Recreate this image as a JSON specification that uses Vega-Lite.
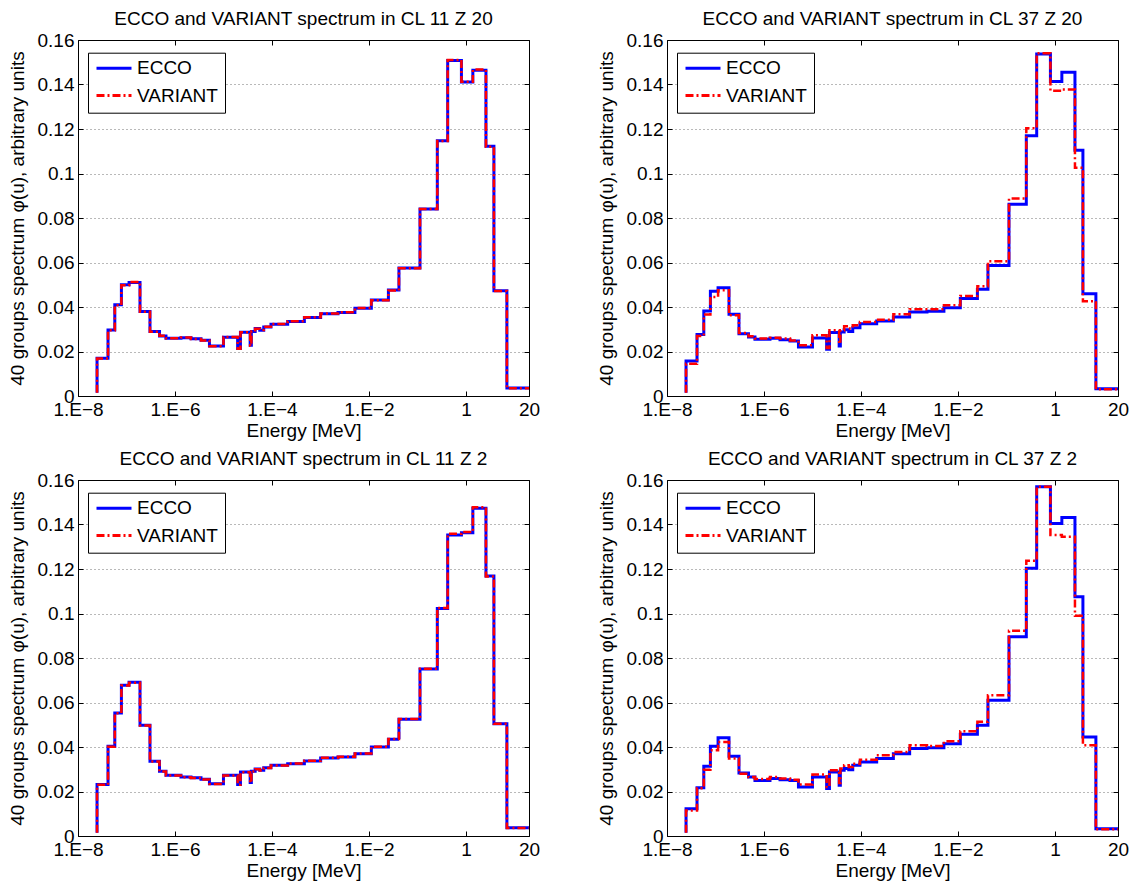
{
"$schema": "https://vega.github.io/schema/vega-lite/v6.json",
"background": "white",
"padding": {"left": 7, "top": 9, "right": 5, "bottom": 2},
"data": {"values": [
{"p":"A","i":0,"E":2.47e-8,"ECCO":0.0015,"VARIANT":0.0015},
{"p":"A","i":1,"E":2.47e-8,"ECCO":0.017,"VARIANT":0.0168},
{"p":"A","i":2,"E":4.16e-8,"ECCO":0.0297,"VARIANT":0.0295},
{"p":"A","i":3,"E":5.74e-8,"ECCO":0.041,"VARIANT":0.0408},
{"p":"A","i":4,"E":7.85e-8,"ECCO":0.050,"VARIANT":0.0498},
{"p":"A","i":5,"E":1.13e-7,"ECCO":0.051,"VARIANT":0.0512},
{"p":"A","i":6,"E":1.9e-7,"ECCO":0.038,"VARIANT":0.0379},
{"p":"A","i":7,"E":3.05e-7,"ECCO":0.029,"VARIANT":0.0289},
{"p":"A","i":8,"E":4.79e-7,"ECCO":0.027,"VARIANT":0.0271},
{"p":"A","i":9,"E":6.52e-7,"ECCO":0.026,"VARIANT":0.0259},
{"p":"A","i":10,"E":1.33e-6,"ECCO":0.0262,"VARIANT":0.0263},
{"p":"A","i":11,"E":2.14e-6,"ECCO":0.0257,"VARIANT":0.0256},
{"p":"A","i":12,"E":3.44e-6,"ECCO":0.0251,"VARIANT":0.025},
{"p":"A","i":13,"E":5.14e-6,"ECCO":0.0225,"VARIANT":0.0224},
{"p":"A","i":14,"E":1e-5,"ECCO":0.0264,"VARIANT":0.0265},
{"p":"A","i":15,"E":1.96e-5,"ECCO":0.0213,"VARIANT":0.0212},
{"p":"A","i":16,"E":2.24e-5,"ECCO":0.0286,"VARIANT":0.0287},
{"p":"A","i":17,"E":3.55e-5,"ECCO":0.0228,"VARIANT":0.0226},
{"p":"A","i":18,"E":3.76e-5,"ECCO":0.029,"VARIANT":0.029},
{"p":"A","i":19,"E":4.5e-5,"ECCO":0.0303,"VARIANT":0.0302},
{"p":"A","i":20,"E":5.6e-5,"ECCO":0.0296,"VARIANT":0.0297},
{"p":"A","i":21,"E":6.77e-5,"ECCO":0.031,"VARIANT":0.0311},
{"p":"A","i":22,"E":9.54e-5,"ECCO":0.0323,"VARIANT":0.0324},
{"p":"A","i":23,"E":2.11e-4,"ECCO":0.0335,"VARIANT":0.0336},
{"p":"A","i":24,"E":4.66e-4,"ECCO":0.0353,"VARIANT":0.0354},
{"p":"A","i":25,"E":1.01e-3,"ECCO":0.037,"VARIANT":0.0371},
{"p":"A","i":26,"E":2.3e-3,"ECCO":0.0375,"VARIANT":0.0376},
{"p":"A","i":27,"E":5.14e-3,"ECCO":0.0394,"VARIANT":0.0395},
{"p":"A","i":28,"E":1.12e-2,"ECCO":0.0431,"VARIANT":0.043},
{"p":"A","i":29,"E":2.52e-2,"ECCO":0.0476,"VARIANT":0.0474},
{"p":"A","i":30,"E":4.16e-2,"ECCO":0.0575,"VARIANT":0.0574},
{"p":"A","i":31,"E":0.113,"ECCO":0.0841,"VARIANT":0.084},
{"p":"A","i":32,"E":0.257,"ECCO":0.1147,"VARIANT":0.1146},
{"p":"A","i":33,"E":0.421,"ECCO":0.1508,"VARIANT":0.151},
{"p":"A","i":34,"E":0.808,"ECCO":0.1411,"VARIANT":0.1412},
{"p":"A","i":35,"E":1.39,"ECCO":0.1464,"VARIANT":0.1467},
{"p":"A","i":36,"E":2.59,"ECCO":0.1122,"VARIANT":0.112},
{"p":"A","i":37,"E":3.78,"ECCO":0.0473,"VARIANT":0.0472},
{"p":"A","i":38,"E":7.0,"ECCO":0.0036,"VARIANT":0.0035},
{"p":"A","i":39,"E":20,"ECCO":0.0036,"VARIANT":0.0035},
{"p":"B","i":0,"E":2.47e-8,"ECCO":0.0015,"VARIANT":0.0015},
{"p":"B","i":1,"E":2.47e-8,"ECCO":0.0157,"VARIANT":0.0145},
{"p":"B","i":2,"E":4.16e-8,"ECCO":0.0276,"VARIANT":0.027},
{"p":"B","i":3,"E":5.74e-8,"ECCO":0.0382,"VARIANT":0.0366},
{"p":"B","i":4,"E":7.85e-8,"ECCO":0.0471,"VARIANT":0.0445},
{"p":"B","i":5,"E":1.13e-7,"ECCO":0.0487,"VARIANT":0.0475},
{"p":"B","i":6,"E":1.9e-7,"ECCO":0.0367,"VARIANT":0.0363},
{"p":"B","i":7,"E":3.05e-7,"ECCO":0.028,"VARIANT":0.0283},
{"p":"B","i":8,"E":4.79e-7,"ECCO":0.0265,"VARIANT":0.0268},
{"p":"B","i":9,"E":6.52e-7,"ECCO":0.0255,"VARIANT":0.0258},
{"p":"B","i":10,"E":1.33e-6,"ECCO":0.026,"VARIANT":0.0262},
{"p":"B","i":11,"E":2.14e-6,"ECCO":0.0253,"VARIANT":0.0258},
{"p":"B","i":12,"E":3.44e-6,"ECCO":0.0247,"VARIANT":0.025},
{"p":"B","i":13,"E":5.14e-6,"ECCO":0.022,"VARIANT":0.0228},
{"p":"B","i":14,"E":1e-5,"ECCO":0.0261,"VARIANT":0.0273},
{"p":"B","i":15,"E":1.96e-5,"ECCO":0.021,"VARIANT":0.0216},
{"p":"B","i":16,"E":2.24e-5,"ECCO":0.0285,"VARIANT":0.0295},
{"p":"B","i":17,"E":3.55e-5,"ECCO":0.0225,"VARIANT":0.0235},
{"p":"B","i":18,"E":3.76e-5,"ECCO":0.0288,"VARIANT":0.0295},
{"p":"B","i":19,"E":4.5e-5,"ECCO":0.0298,"VARIANT":0.0313},
{"p":"B","i":20,"E":5.6e-5,"ECCO":0.029,"VARIANT":0.0303},
{"p":"B","i":21,"E":6.77e-5,"ECCO":0.0307,"VARIANT":0.0318},
{"p":"B","i":22,"E":9.54e-5,"ECCO":0.0325,"VARIANT":0.0333},
{"p":"B","i":23,"E":2.11e-4,"ECCO":0.0337,"VARIANT":0.0343},
{"p":"B","i":24,"E":4.66e-4,"ECCO":0.0355,"VARIANT":0.0367},
{"p":"B","i":25,"E":1.01e-3,"ECCO":0.0378,"VARIANT":0.039},
{"p":"B","i":26,"E":2.3e-3,"ECCO":0.0381,"VARIANT":0.039},
{"p":"B","i":27,"E":5.14e-3,"ECCO":0.0397,"VARIANT":0.0408},
{"p":"B","i":28,"E":1.12e-2,"ECCO":0.0438,"VARIANT":0.045},
{"p":"B","i":29,"E":2.52e-2,"ECCO":0.048,"VARIANT":0.0493},
{"p":"B","i":30,"E":4.16e-2,"ECCO":0.0586,"VARIANT":0.0606},
{"p":"B","i":31,"E":0.113,"ECCO":0.0862,"VARIANT":0.0888},
{"p":"B","i":32,"E":0.257,"ECCO":0.117,"VARIANT":0.1203},
{"p":"B","i":33,"E":0.421,"ECCO":0.1537,"VARIANT":0.154},
{"p":"B","i":34,"E":0.808,"ECCO":0.1414,"VARIANT":0.1372},
{"p":"B","i":35,"E":1.39,"ECCO":0.1455,"VARIANT":0.1378},
{"p":"B","i":36,"E":2.59,"ECCO":0.1105,"VARIANT":0.1026},
{"p":"B","i":37,"E":3.78,"ECCO":0.046,"VARIANT":0.0426},
{"p":"B","i":38,"E":7.0,"ECCO":0.0033,"VARIANT":0.003},
{"p":"B","i":39,"E":20,"ECCO":0.0033,"VARIANT":0.003},
{"p":"C","i":0,"E":2.47e-8,"ECCO":0.0015,"VARIANT":0.0015},
{"p":"C","i":1,"E":2.47e-8,"ECCO":0.0232,"VARIANT":0.023},
{"p":"C","i":2,"E":4.16e-8,"ECCO":0.0403,"VARIANT":0.0401},
{"p":"C","i":3,"E":5.74e-8,"ECCO":0.0553,"VARIANT":0.0552},
{"p":"C","i":4,"E":7.85e-8,"ECCO":0.0678,"VARIANT":0.0676},
{"p":"C","i":5,"E":1.13e-7,"ECCO":0.0691,"VARIANT":0.0689},
{"p":"C","i":6,"E":1.9e-7,"ECCO":0.0498,"VARIANT":0.0497},
{"p":"C","i":7,"E":3.05e-7,"ECCO":0.0336,"VARIANT":0.0335},
{"p":"C","i":8,"E":4.79e-7,"ECCO":0.0291,"VARIANT":0.029},
{"p":"C","i":9,"E":6.52e-7,"ECCO":0.0273,"VARIANT":0.0272},
{"p":"C","i":10,"E":1.33e-6,"ECCO":0.0265,"VARIANT":0.0264},
{"p":"C","i":11,"E":2.14e-6,"ECCO":0.0262,"VARIANT":0.0261},
{"p":"C","i":12,"E":3.44e-6,"ECCO":0.0255,"VARIANT":0.0254},
{"p":"C","i":13,"E":5.14e-6,"ECCO":0.0235,"VARIANT":0.0234},
{"p":"C","i":14,"E":1e-5,"ECCO":0.0273,"VARIANT":0.0272},
{"p":"C","i":15,"E":1.96e-5,"ECCO":0.0231,"VARIANT":0.023},
{"p":"C","i":16,"E":2.24e-5,"ECCO":0.0288,"VARIANT":0.0287},
{"p":"C","i":17,"E":3.55e-5,"ECCO":0.024,"VARIANT":0.0239},
{"p":"C","i":18,"E":3.76e-5,"ECCO":0.0291,"VARIANT":0.029},
{"p":"C","i":19,"E":4.5e-5,"ECCO":0.0301,"VARIANT":0.03},
{"p":"C","i":20,"E":5.6e-5,"ECCO":0.0295,"VARIANT":0.0294},
{"p":"C","i":21,"E":6.77e-5,"ECCO":0.0307,"VARIANT":0.0306},
{"p":"C","i":22,"E":9.54e-5,"ECCO":0.0318,"VARIANT":0.0317},
{"p":"C","i":23,"E":2.11e-4,"ECCO":0.0325,"VARIANT":0.0326},
{"p":"C","i":24,"E":4.66e-4,"ECCO":0.0337,"VARIANT":0.0338},
{"p":"C","i":25,"E":1.01e-3,"ECCO":0.0351,"VARIANT":0.0352},
{"p":"C","i":26,"E":2.3e-3,"ECCO":0.0355,"VARIANT":0.0356},
{"p":"C","i":27,"E":5.14e-3,"ECCO":0.037,"VARIANT":0.0371},
{"p":"C","i":28,"E":1.12e-2,"ECCO":0.04,"VARIANT":0.0401},
{"p":"C","i":29,"E":2.52e-2,"ECCO":0.0435,"VARIANT":0.0436},
{"p":"C","i":30,"E":4.16e-2,"ECCO":0.0525,"VARIANT":0.0526},
{"p":"C","i":31,"E":0.113,"ECCO":0.0751,"VARIANT":0.0752},
{"p":"C","i":32,"E":0.257,"ECCO":0.1023,"VARIANT":0.1025},
{"p":"C","i":33,"E":0.421,"ECCO":0.1353,"VARIANT":0.1358},
{"p":"C","i":34,"E":0.808,"ECCO":0.1363,"VARIANT":0.1366},
{"p":"C","i":35,"E":1.39,"ECCO":0.1473,"VARIANT":0.1478},
{"p":"C","i":36,"E":2.59,"ECCO":0.1168,"VARIANT":0.1166},
{"p":"C","i":37,"E":3.78,"ECCO":0.0505,"VARIANT":0.0504},
{"p":"C","i":38,"E":7.0,"ECCO":0.0037,"VARIANT":0.0036},
{"p":"C","i":39,"E":20,"ECCO":0.0037,"VARIANT":0.0036},
{"p":"D","i":0,"E":2.47e-8,"ECCO":0.0015,"VARIANT":0.0015},
{"p":"D","i":1,"E":2.47e-8,"ECCO":0.0123,"VARIANT":0.0115},
{"p":"D","i":2,"E":4.16e-8,"ECCO":0.0217,"VARIANT":0.0215},
{"p":"D","i":3,"E":5.74e-8,"ECCO":0.0313,"VARIANT":0.0298},
{"p":"D","i":4,"E":7.85e-8,"ECCO":0.0403,"VARIANT":0.0385},
{"p":"D","i":5,"E":1.13e-7,"ECCO":0.0442,"VARIANT":0.0423},
{"p":"D","i":6,"E":1.9e-7,"ECCO":0.0358,"VARIANT":0.0348},
{"p":"D","i":7,"E":3.05e-7,"ECCO":0.0283,"VARIANT":0.028},
{"p":"D","i":8,"E":4.79e-7,"ECCO":0.0265,"VARIANT":0.0265},
{"p":"D","i":9,"E":6.52e-7,"ECCO":0.025,"VARIANT":0.0256},
{"p":"D","i":10,"E":1.33e-6,"ECCO":0.0258,"VARIANT":0.0265},
{"p":"D","i":11,"E":2.14e-6,"ECCO":0.0253,"VARIANT":0.0258},
{"p":"D","i":12,"E":3.44e-6,"ECCO":0.025,"VARIANT":0.0253},
{"p":"D","i":13,"E":5.14e-6,"ECCO":0.022,"VARIANT":0.0232},
{"p":"D","i":14,"E":1e-5,"ECCO":0.0265,"VARIANT":0.0276},
{"p":"D","i":15,"E":1.96e-5,"ECCO":0.0213,"VARIANT":0.022},
{"p":"D","i":16,"E":2.24e-5,"ECCO":0.0288,"VARIANT":0.0295},
{"p":"D","i":17,"E":3.55e-5,"ECCO":0.0228,"VARIANT":0.0238},
{"p":"D","i":18,"E":3.76e-5,"ECCO":0.0295,"VARIANT":0.0303},
{"p":"D","i":19,"E":4.5e-5,"ECCO":0.0303,"VARIANT":0.0318},
{"p":"D","i":20,"E":5.6e-5,"ECCO":0.0298,"VARIANT":0.031},
{"p":"D","i":21,"E":6.77e-5,"ECCO":0.0318,"VARIANT":0.0325},
{"p":"D","i":22,"E":9.54e-5,"ECCO":0.0333,"VARIANT":0.0343},
{"p":"D","i":23,"E":2.11e-4,"ECCO":0.0348,"VARIANT":0.0363},
{"p":"D","i":24,"E":4.66e-4,"ECCO":0.037,"VARIANT":0.0378},
{"p":"D","i":25,"E":1.01e-3,"ECCO":0.0393,"VARIANT":0.0408},
{"p":"D","i":26,"E":2.3e-3,"ECCO":0.0397,"VARIANT":0.0405},
{"p":"D","i":27,"E":5.14e-3,"ECCO":0.0415,"VARIANT":0.0426},
{"p":"D","i":28,"E":1.12e-2,"ECCO":0.0457,"VARIANT":0.0471},
{"p":"D","i":29,"E":2.52e-2,"ECCO":0.0498,"VARIANT":0.0513},
{"p":"D","i":30,"E":4.16e-2,"ECCO":0.061,"VARIANT":0.0633},
{"p":"D","i":31,"E":0.113,"ECCO":0.0895,"VARIANT":0.0922},
{"p":"D","i":32,"E":0.257,"ECCO":0.1203,"VARIANT":0.1237},
{"p":"D","i":33,"E":0.421,"ECCO":0.157,"VARIANT":0.157},
{"p":"D","i":34,"E":0.808,"ECCO":0.1405,"VARIANT":0.1353},
{"p":"D","i":35,"E":1.39,"ECCO":0.1432,"VARIANT":0.1345},
{"p":"D","i":36,"E":2.59,"ECCO":0.1075,"VARIANT":0.099},
{"p":"D","i":37,"E":3.78,"ECCO":0.0445,"VARIANT":0.0408},
{"p":"D","i":38,"E":7.0,"ECCO":0.0033,"VARIANT":0.003},
{"p":"D","i":39,"E":20,"ECCO":0.0033,"VARIANT":0.003}
]},
"columns": 2,
"spacing": {"row": 84, "column": 138},
"bounds": "flush",
"resolve": {"legend": {"color": "independent", "strokeDash": "independent"}},
"concat": [
{"width": 451, "height": 356,
 "title": "ECCO and VARIANT spectrum in CL 11 Z 20",
 "transform": [{"filter": "datum.p === 'A'"}, {"fold": ["ECCO", "VARIANT"], "as": ["series", "phi"]}],
 "layer": [
  {"mark": {"type": "line", "interpolate": "step-after", "opacity": 0},
   "encoding": {
    "x": {"field": "E", "type": "quantitative", "scale": {"type": "log", "domain": [1e-8, 20], "nice": false}, "axis": {"orient": "top", "values": [1e-8, 1e-6, 0.0001, 0.01, 1, 20], "labels": false, "title": null, "tickSize": -5, "domain": false, "grid": false}},
    "y": {"field": "phi", "type": "quantitative", "scale": {"domain": [0, 0.16], "nice": false, "zero": false}, "axis": {"orient": "right", "values": [0, 0.02, 0.04, 0.06, 0.08, 0.1, 0.12, 0.14, 0.16], "labels": false, "title": null, "tickSize": -5, "domain": false, "grid": false}},
    "detail": {"field": "series"},
    "order": {"field": "i", "type": "quantitative"}}},
  {"transform": [{"filter": "datum.series === 'ECCO'"}],
   "mark": {"type": "line", "interpolate": "step-after", "strokeWidth": 3},
   "encoding": {
    "x": {"field": "E", "type": "quantitative", "scale": {"type": "log", "domain": [1e-8, 20], "nice": false}, "axis": {"title": "Energy [MeV]", "values": [1e-8, 1e-6, 0.0001, 0.01, 1, 20], "labelExpr": "datum.value >= 1 ? format(datum.value, 'd') : '1.E\u2212' + format(-log(datum.value) / LN10, '.0f')", "tickSize": -5, "labelPadding": 9, "titlePadding": 2, "domain": false, "grid": false, "labelFlush": false, "labelOverlap": false}},
    "y": {"field": "phi", "type": "quantitative", "scale": {"domain": [0, 0.16], "nice": false, "zero": false}, "axis": {"title": "40 groups spectrum \u03c6(u), arbitrary units", "values": [0, 0.02, 0.04, 0.06, 0.08, 0.1, 0.12, 0.14, 0.16], "format": ".2~f", "tickSize": -5, "labelPadding": 9, "titlePadding": 10, "domain": false, "grid": true, "labelFlush": false, "labelOverlap": false}},
    "color": {"field": "series", "type": "nominal", "scale": {"domain": ["ECCO", "VARIANT"], "range": ["#0000ff", "#ff0000"]}, "legend": {"title": null, "orient": "none", "legendX": 10, "legendY": 12.7}},
    "strokeDash": {"field": "series", "type": "nominal", "scale": {"domain": ["ECCO", "VARIANT"], "range": [[1, 0], [8, 3, 2, 3]]}, "legend": {"title": null, "orient": "none", "legendX": 10, "legendY": 12.7}},
    "order": {"field": "i", "type": "quantitative"}}},
  {"transform": [{"filter": "datum.series === 'VARIANT'"}],
   "mark": {"type": "line", "interpolate": "step-after", "strokeWidth": 2.5},
   "encoding": {
    "x": {"field": "E", "type": "quantitative", "scale": {"type": "log", "domain": [1e-8, 20], "nice": false}, "axis": null},
    "y": {"field": "phi", "type": "quantitative", "scale": {"domain": [0, 0.16], "nice": false, "zero": false}, "axis": null},
    "color": {"field": "series", "type": "nominal", "scale": {"domain": ["ECCO", "VARIANT"], "range": ["#0000ff", "#ff0000"]}},
    "strokeDash": {"field": "series", "type": "nominal", "scale": {"domain": ["ECCO", "VARIANT"], "range": [[1, 0], [8, 3, 2, 3]]}},
    "order": {"field": "i", "type": "quantitative"}}}
 ],
 "resolve": {"axis": {"x": "independent", "y": "independent"}}
},
{"width": 451, "height": 356,
 "title": "ECCO and VARIANT spectrum in CL 37 Z 20",
 "transform": [{"filter": "datum.p === 'B'"}, {"fold": ["ECCO", "VARIANT"], "as": ["series", "phi"]}],
 "layer": [
  {"mark": {"type": "line", "interpolate": "step-after", "opacity": 0},
   "encoding": {
    "x": {"field": "E", "type": "quantitative", "scale": {"type": "log", "domain": [1e-8, 20], "nice": false}, "axis": {"orient": "top", "values": [1e-8, 1e-6, 0.0001, 0.01, 1, 20], "labels": false, "title": null, "tickSize": -5, "domain": false, "grid": false}},
    "y": {"field": "phi", "type": "quantitative", "scale": {"domain": [0, 0.16], "nice": false, "zero": false}, "axis": {"orient": "right", "values": [0, 0.02, 0.04, 0.06, 0.08, 0.1, 0.12, 0.14, 0.16], "labels": false, "title": null, "tickSize": -5, "domain": false, "grid": false}},
    "detail": {"field": "series"},
    "order": {"field": "i", "type": "quantitative"}}},
  {"transform": [{"filter": "datum.series === 'ECCO'"}],
   "mark": {"type": "line", "interpolate": "step-after", "strokeWidth": 3},
   "encoding": {
    "x": {"field": "E", "type": "quantitative", "scale": {"type": "log", "domain": [1e-8, 20], "nice": false}, "axis": {"title": "Energy [MeV]", "values": [1e-8, 1e-6, 0.0001, 0.01, 1, 20], "labelExpr": "datum.value >= 1 ? format(datum.value, 'd') : '1.E\u2212' + format(-log(datum.value) / LN10, '.0f')", "tickSize": -5, "labelPadding": 9, "titlePadding": 2, "domain": false, "grid": false, "labelFlush": false, "labelOverlap": false}},
    "y": {"field": "phi", "type": "quantitative", "scale": {"domain": [0, 0.16], "nice": false, "zero": false}, "axis": {"title": "40 groups spectrum \u03c6(u), arbitrary units", "values": [0, 0.02, 0.04, 0.06, 0.08, 0.1, 0.12, 0.14, 0.16], "format": ".2~f", "tickSize": -5, "labelPadding": 9, "titlePadding": 10, "domain": false, "grid": true, "labelFlush": false, "labelOverlap": false}},
    "color": {"field": "series", "type": "nominal", "scale": {"domain": ["ECCO", "VARIANT"], "range": ["#0000ff", "#ff0000"]}, "legend": {"title": null, "orient": "none", "legendX": 10, "legendY": 12.7}},
    "strokeDash": {"field": "series", "type": "nominal", "scale": {"domain": ["ECCO", "VARIANT"], "range": [[1, 0], [8, 3, 2, 3]]}, "legend": {"title": null, "orient": "none", "legendX": 10, "legendY": 12.7}},
    "order": {"field": "i", "type": "quantitative"}}},
  {"transform": [{"filter": "datum.series === 'VARIANT'"}],
   "mark": {"type": "line", "interpolate": "step-after", "strokeWidth": 2.5},
   "encoding": {
    "x": {"field": "E", "type": "quantitative", "scale": {"type": "log", "domain": [1e-8, 20], "nice": false}, "axis": null},
    "y": {"field": "phi", "type": "quantitative", "scale": {"domain": [0, 0.16], "nice": false, "zero": false}, "axis": null},
    "color": {"field": "series", "type": "nominal", "scale": {"domain": ["ECCO", "VARIANT"], "range": ["#0000ff", "#ff0000"]}},
    "strokeDash": {"field": "series", "type": "nominal", "scale": {"domain": ["ECCO", "VARIANT"], "range": [[1, 0], [8, 3, 2, 3]]}},
    "order": {"field": "i", "type": "quantitative"}}}
 ],
 "resolve": {"axis": {"x": "independent", "y": "independent"}}
},
{"width": 451, "height": 356,
 "title": "ECCO and VARIANT spectrum in CL 11 Z 2",
 "transform": [{"filter": "datum.p === 'C'"}, {"fold": ["ECCO", "VARIANT"], "as": ["series", "phi"]}],
 "layer": [
  {"mark": {"type": "line", "interpolate": "step-after", "opacity": 0},
   "encoding": {
    "x": {"field": "E", "type": "quantitative", "scale": {"type": "log", "domain": [1e-8, 20], "nice": false}, "axis": {"orient": "top", "values": [1e-8, 1e-6, 0.0001, 0.01, 1, 20], "labels": false, "title": null, "tickSize": -5, "domain": false, "grid": false}},
    "y": {"field": "phi", "type": "quantitative", "scale": {"domain": [0, 0.16], "nice": false, "zero": false}, "axis": {"orient": "right", "values": [0, 0.02, 0.04, 0.06, 0.08, 0.1, 0.12, 0.14, 0.16], "labels": false, "title": null, "tickSize": -5, "domain": false, "grid": false}},
    "detail": {"field": "series"},
    "order": {"field": "i", "type": "quantitative"}}},
  {"transform": [{"filter": "datum.series === 'ECCO'"}],
   "mark": {"type": "line", "interpolate": "step-after", "strokeWidth": 3},
   "encoding": {
    "x": {"field": "E", "type": "quantitative", "scale": {"type": "log", "domain": [1e-8, 20], "nice": false}, "axis": {"title": "Energy [MeV]", "values": [1e-8, 1e-6, 0.0001, 0.01, 1, 20], "labelExpr": "datum.value >= 1 ? format(datum.value, 'd') : '1.E\u2212' + format(-log(datum.value) / LN10, '.0f')", "tickSize": -5, "labelPadding": 9, "titlePadding": 2, "domain": false, "grid": false, "labelFlush": false, "labelOverlap": false}},
    "y": {"field": "phi", "type": "quantitative", "scale": {"domain": [0, 0.16], "nice": false, "zero": false}, "axis": {"title": "40 groups spectrum \u03c6(u), arbitrary units", "values": [0, 0.02, 0.04, 0.06, 0.08, 0.1, 0.12, 0.14, 0.16], "format": ".2~f", "tickSize": -5, "labelPadding": 9, "titlePadding": 10, "domain": false, "grid": true, "labelFlush": false, "labelOverlap": false}},
    "color": {"field": "series", "type": "nominal", "scale": {"domain": ["ECCO", "VARIANT"], "range": ["#0000ff", "#ff0000"]}, "legend": {"title": null, "orient": "none", "legendX": 10, "legendY": 12.7}},
    "strokeDash": {"field": "series", "type": "nominal", "scale": {"domain": ["ECCO", "VARIANT"], "range": [[1, 0], [8, 3, 2, 3]]}, "legend": {"title": null, "orient": "none", "legendX": 10, "legendY": 12.7}},
    "order": {"field": "i", "type": "quantitative"}}},
  {"transform": [{"filter": "datum.series === 'VARIANT'"}],
   "mark": {"type": "line", "interpolate": "step-after", "strokeWidth": 2.5},
   "encoding": {
    "x": {"field": "E", "type": "quantitative", "scale": {"type": "log", "domain": [1e-8, 20], "nice": false}, "axis": null},
    "y": {"field": "phi", "type": "quantitative", "scale": {"domain": [0, 0.16], "nice": false, "zero": false}, "axis": null},
    "color": {"field": "series", "type": "nominal", "scale": {"domain": ["ECCO", "VARIANT"], "range": ["#0000ff", "#ff0000"]}},
    "strokeDash": {"field": "series", "type": "nominal", "scale": {"domain": ["ECCO", "VARIANT"], "range": [[1, 0], [8, 3, 2, 3]]}},
    "order": {"field": "i", "type": "quantitative"}}}
 ],
 "resolve": {"axis": {"x": "independent", "y": "independent"}}
},
{"width": 451, "height": 356,
 "title": "ECCO and VARIANT spectrum in CL 37 Z 2",
 "transform": [{"filter": "datum.p === 'D'"}, {"fold": ["ECCO", "VARIANT"], "as": ["series", "phi"]}],
 "layer": [
  {"mark": {"type": "line", "interpolate": "step-after", "opacity": 0},
   "encoding": {
    "x": {"field": "E", "type": "quantitative", "scale": {"type": "log", "domain": [1e-8, 20], "nice": false}, "axis": {"orient": "top", "values": [1e-8, 1e-6, 0.0001, 0.01, 1, 20], "labels": false, "title": null, "tickSize": -5, "domain": false, "grid": false}},
    "y": {"field": "phi", "type": "quantitative", "scale": {"domain": [0, 0.16], "nice": false, "zero": false}, "axis": {"orient": "right", "values": [0, 0.02, 0.04, 0.06, 0.08, 0.1, 0.12, 0.14, 0.16], "labels": false, "title": null, "tickSize": -5, "domain": false, "grid": false}},
    "detail": {"field": "series"},
    "order": {"field": "i", "type": "quantitative"}}},
  {"transform": [{"filter": "datum.series === 'ECCO'"}],
   "mark": {"type": "line", "interpolate": "step-after", "strokeWidth": 3},
   "encoding": {
    "x": {"field": "E", "type": "quantitative", "scale": {"type": "log", "domain": [1e-8, 20], "nice": false}, "axis": {"title": "Energy [MeV]", "values": [1e-8, 1e-6, 0.0001, 0.01, 1, 20], "labelExpr": "datum.value >= 1 ? format(datum.value, 'd') : '1.E\u2212' + format(-log(datum.value) / LN10, '.0f')", "tickSize": -5, "labelPadding": 9, "titlePadding": 2, "domain": false, "grid": false, "labelFlush": false, "labelOverlap": false}},
    "y": {"field": "phi", "type": "quantitative", "scale": {"domain": [0, 0.16], "nice": false, "zero": false}, "axis": {"title": "40 groups spectrum \u03c6(u), arbitrary units", "values": [0, 0.02, 0.04, 0.06, 0.08, 0.1, 0.12, 0.14, 0.16], "format": ".2~f", "tickSize": -5, "labelPadding": 9, "titlePadding": 10, "domain": false, "grid": true, "labelFlush": false, "labelOverlap": false}},
    "color": {"field": "series", "type": "nominal", "scale": {"domain": ["ECCO", "VARIANT"], "range": ["#0000ff", "#ff0000"]}, "legend": {"title": null, "orient": "none", "legendX": 10, "legendY": 12.7}},
    "strokeDash": {"field": "series", "type": "nominal", "scale": {"domain": ["ECCO", "VARIANT"], "range": [[1, 0], [8, 3, 2, 3]]}, "legend": {"title": null, "orient": "none", "legendX": 10, "legendY": 12.7}},
    "order": {"field": "i", "type": "quantitative"}}},
  {"transform": [{"filter": "datum.series === 'VARIANT'"}],
   "mark": {"type": "line", "interpolate": "step-after", "strokeWidth": 2.5},
   "encoding": {
    "x": {"field": "E", "type": "quantitative", "scale": {"type": "log", "domain": [1e-8, 20], "nice": false}, "axis": null},
    "y": {"field": "phi", "type": "quantitative", "scale": {"domain": [0, 0.16], "nice": false, "zero": false}, "axis": null},
    "color": {"field": "series", "type": "nominal", "scale": {"domain": ["ECCO", "VARIANT"], "range": ["#0000ff", "#ff0000"]}},
    "strokeDash": {"field": "series", "type": "nominal", "scale": {"domain": ["ECCO", "VARIANT"], "range": [[1, 0], [8, 3, 2, 3]]}},
    "order": {"field": "i", "type": "quantitative"}}}
 ],
 "resolve": {"axis": {"x": "independent", "y": "independent"}}
}
],
"config": {
 "font": "Liberation Sans",
 "view": {"stroke": "#000", "strokeWidth": 1},
 "axis": {"labelFont": "Liberation Sans", "labelFontSize": 19, "labelColor": "#000", "titleFont": "Liberation Sans", "titleFontSize": 19, "titleFontWeight": "normal", "titleColor": "#000", "tickColor": "#000", "tickWidth": 1, "gridColor": "#000", "gridOpacity": 0.55, "gridDash": [1, 3], "gridWidth": 1},
 "title": {"font": "Liberation Sans", "fontSize": 19, "fontWeight": "normal", "color": "#000", "offset": 2, "frame": "group", "anchor": "middle"},
 "legend": {"symbolType": "stroke", "symbolSize": 1225, "symbolStrokeWidth": 3, "clipHeight": 17, "rowPadding": 7.4, "padding": 7, "labelOffset": 4, "labelFont": "Liberation Sans", "labelFontSize": 19, "labelColor": "#000", "strokeColor": "#000", "fillColor": "#fff"}
}
}
